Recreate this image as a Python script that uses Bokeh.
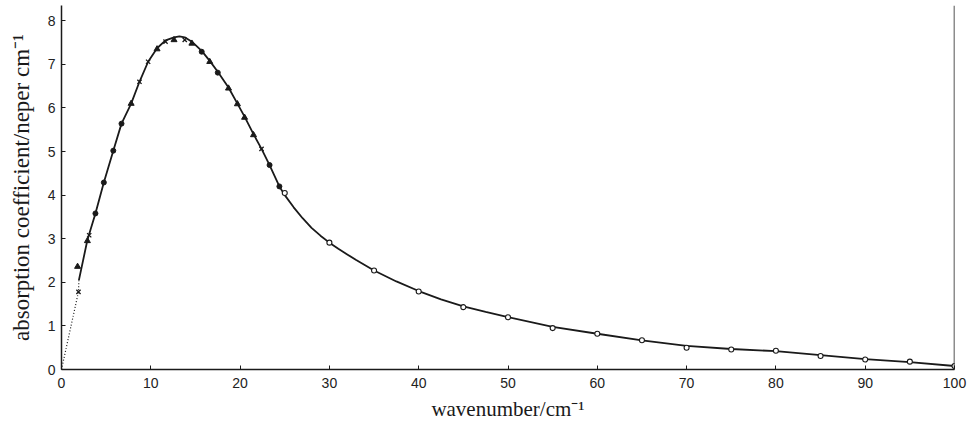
from bokeh.plotting import figure
from bokeh.models import Range1d, FixedTicker, Span
from bokeh.embed import file_html
from bokeh.resources import INLINE

# Measured points (wavenumber / cm^-1, absorption coefficient / neper cm^-1)
tri_x = [1.8, 2.9, 7.8, 10.7, 12.6, 14.6, 16.6, 18.7, 19.7, 20.5, 21.5]
tri_y = [2.36, 2.95, 6.10, 7.35, 7.56, 7.48, 7.06, 6.45, 6.09, 5.78, 5.38]

cross_x = [1.9, 3.1, 8.73, 9.7, 11.65, 13.8, 22.4]
cross_y = [1.78, 3.08, 6.60, 7.06, 7.52, 7.56, 5.06]

dot_x = [3.8, 4.74, 5.8, 6.72, 15.7, 17.5, 23.3, 24.4]
dot_y = [3.58, 4.29, 5.02, 5.64, 7.29, 6.81, 4.69, 4.20]

open_x = [25, 30, 35, 40, 45, 50, 55, 60, 65, 70, 75, 80, 85, 90, 95, 100]
open_y = [4.05, 2.91, 2.27, 1.79, 1.43, 1.20, 0.95, 0.82, 0.67, 0.50, 0.46, 0.43, 0.31, 0.23, 0.18, 0.08]

# Smooth curve drawn through the measurements
curve_x = [1.95, 2.9, 3.8, 4.74, 5.8, 6.72, 7.8, 8.73, 9.7, 10.7, 11.65, 12.6, 13.2,
           13.8, 14.6, 15.7, 16.6, 17.5, 18.7, 19.7, 20.5, 21.5, 22.4, 23.3, 24.4,
           25, 26, 27, 28, 29, 30, 31, 32, 33, 34, 35, 37.5, 40, 42.5, 45, 47.5, 50,
           55, 60, 65, 70, 75, 80, 85, 90, 95, 100]
curve_y = [2.05, 2.97, 3.58, 4.29, 5.02, 5.64, 6.10, 6.60, 7.06, 7.37, 7.55, 7.62, 7.64,
           7.62, 7.52, 7.31, 7.08, 6.83, 6.47, 6.10, 5.80, 5.40, 5.06, 4.69, 4.20,
           4.00, 3.72, 3.47, 3.25, 3.07, 2.91, 2.77, 2.64, 2.51, 2.39, 2.27, 2.02,
           1.80, 1.61, 1.45, 1.32, 1.20, 0.98, 0.82, 0.67, 0.54, 0.47, 0.42, 0.33,
           0.24, 0.17, 0.08]

# Dotted extrapolation to the origin
extrap_x = [0, 1.9, 1.95]
extrap_y = [0, 1.78, 2.05]

x_ticks = [0, 10, 20, 30, 40, 50, 60, 70, 80, 90, 100]
y_ticks = [0, 1, 2, 3, 4, 5, 6, 7, 8]

INK = "#1a1a1a"

p = figure(width=971, height=423, output_backend="svg", toolbar_location=None,
           x_range=Range1d(0, 100), y_range=Range1d(0, 8.35),
           min_border_left=61, min_border_right=17,
           min_border_top=5, min_border_bottom=52)

p.outline_line_color = None
p.grid.visible = False
p.background_fill_color = "white"
p.border_fill_color = "white"

for ax in (p.xaxis[0], p.yaxis[0]):
    ax.axis_line_color = INK
    ax.axis_line_width = 1.5
    ax.major_tick_line_color = INK
    ax.major_tick_in = 4
    ax.major_tick_out = 0
    ax.minor_tick_line_color = None
    ax.major_label_text_font = "Liberation Sans"
    ax.major_label_text_font_size = "14px"
    ax.major_label_text_color = "#222222"
    ax.axis_label_text_font = "Liberation Serif"
    ax.axis_label_text_font_style = "normal"
    ax.axis_label_text_color = INK

p.xaxis[0].ticker = FixedTicker(ticks=x_ticks)
p.yaxis[0].ticker = FixedTicker(ticks=y_ticks)
p.xaxis[0].axis_label = "wavenumber/cm\u207b\u00b9"
p.yaxis[0].axis_label = "absorption coefficient/neper cm\u207b\u00b9"
p.xaxis[0].axis_label_text_font_size = "21px"
p.yaxis[0].axis_label_text_font_size = "23px"
p.xaxis[0].major_label_standoff = 8
p.yaxis[0].major_label_standoff = 6
p.xaxis[0].axis_label_standoff = 6
p.yaxis[0].axis_label_standoff = 11

# right-hand frame line at 100 cm^-1
p.add_layout(Span(location=100, dimension="height", line_color=INK, line_width=1.5))

p.line(extrap_x, extrap_y, line_color=INK, line_width=1.2, line_dash="1 2")
p.line(curve_x, curve_y, line_color=INK, line_width=1.8)

p.scatter(tri_x, tri_y, marker="triangle", size=6, fill_color=INK, line_color=INK)
p.scatter(cross_x, cross_y, marker="x", size=6, line_color=INK, line_width=1.3)
p.scatter(dot_x, dot_y, marker="circle", size=5, fill_color=INK, line_color=INK)
p.scatter(open_x, open_y, marker="circle", size=5, fill_color="white",
          line_color=INK, line_width=1.1)

open("out.html", "w").write(file_html(p, INLINE))
